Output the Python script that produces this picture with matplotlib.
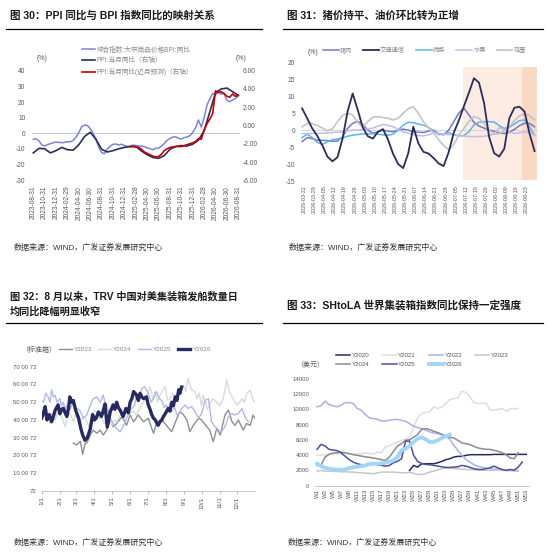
"""Four-panel macro chart page: PPI/BPI, CPI items, TRV containers, SHtoLA index."""

import matplotlib

matplotlib.use("Agg")
import matplotlib.pyplot as plt
import numpy as np
from matplotlib.lines import Line2D

plt.rcParams["font.family"] = ["Liberation Sans", "Noto Sans CJK SC", "DejaVu Sans"]
plt.rcParams["axes.unicode_minus"] = False

W, H = 549, 555
TICK_C = "#595959"

# ---------------- panel 1: PPI vs BPI ----------------
p1_dates = ["2023-08-31", "2023-10-31", "2023-12-31", "2024-02-29", "2024-04-30",
            "2024-06-30", "2024-08-31", "2024-10-31", "2024-12-31", "2025-02-28",
            "2025-04-30", "2025-06-30", "2025-08-31", "2025-10-31", "2025-12-31",
            "2026-02-28", "2026-04-30", "2026-06-30", "2026-08-31"]
# BPI yoy, half-month steps from 2023-08-31
bpi = [-3.8, -3.5, -4.8, -7.5, -8, -7.2, -6.6, -6, -5.5, -5.8, -6, -5.8, -5.3,
       -5.5, -4.5, -2.5, 0.5, 4.3, 5.3, 5, 3, 0, -4, -9, -12.3, -13, -10, -8.3,
       -7, -6.8, -7.4, -7, -7.8, -8.3, -8.5, -7.5, -7.8, -8, -8.2, -8.5, -9.3,
       -9.8, -10.5, -9.5, -9.5, -8.2, -6.5, -4.5, -3.2, -2.4, -2.2, -3.2, -3.6,
       -2.8, -2.3, -1.5, 0.5, 3.5, 8.5, 4, 10, 18, 22, 25.5, 24.5, 26.5, 25,
       25.5, 21, 20.2, 21.3, 22.3, 24]
# PPI yoy, monthly
ppi = [-3.0, -2.5, -2.55, -3.0, -2.75, -2.4, -2.65, -2.7, -2.1, -1.2, -0.75,
       -1.5, -2.6, -2.9, -2.75, -2.55, -2.4, -2.3, -2.3, -2.8, -3.2, -3.5, -3.6,
       -3.3, -2.6, -2.3, -2.2, -2.25, -2.05, -1.6, -0.6, 1.5, 3.6, 4.0, 4.1,
       3.7, 3.3]
# PPI with near-month forecast, half-month steps from 2025-01
ppi_fc = [-2.3, -2.3, -2.35, -2.4, -2.6, -2.9, -3.05, -3.2, -3.35, -3.45, -3.4,
          -3.15, -2.75, -2.55, -2.4, -2.35, -2.3, -2.3, -2.3, -2.2, -2.1, -2.0,
          -1.9, -1.75, -1.45, -1.5, -0.5, 0.2, 0.7, 1.3, 3.8, 3.6, 3.7, 3.5,
          3.2, 3.1, 3.45, 3.2, 3.3]

# ---------------- panel 2: CPI items ----------------
p2_dates = ["2026-03-22", "2026-03-29", "2026-04-05", "2026-04-12", "2026-04-19",
            "2026-04-26", "2026-05-03", "2026-05-10", "2026-05-17", "2026-05-24",
            "2026-05-31", "2026-06-07", "2026-06-14", "2026-06-21", "2026-06-28",
            "2026-07-05", "2026-07-12", "2026-07-19", "2026-07-26", "2026-08-02",
            "2026-08-09", "2026-08-16", "2026-08-23"]
pork = [-3.4, -2.2, -2.5, -3, -3, -3.1, -3.3, -3.2, -2, 0.5, 2, 2.6, 1.6, 0,
        -0.9, -0.5, 0, -0.3, -0.5, 0, 0.3, 0, -0.5, -0.6, -0.7, -0.3, 0, -1,
        -1.4, 0, 2.5, 5, 6.5, 4.5, 2.3, 1.2, 0.6, 0, -0.3, -0.8, -1, -0.6, 0.2,
        1.3, 2, 2, 1]
transport = [6.4, 3.5, 0.5, -1.7, -4.5, -7.8, -9.2, -8, -2.5, 5.5, 10.8, 6,
             0.8, -1.8, -2.5, -0.5, 0.3, -2.8, -7, -10, -11.2, -6.8, 1, -3.9,
             -6.4, -6.9, -8.2, -9.8, -10.6, -6.5, -0.8, 2.8, 7, 11, 15.3, 14, 8,
             -2, -6.8, -7.8, -5.5, 3.5, 6.6, 6.9, 5.5, -1, -6.2]
veg = [-2.2, -1.2, -2.2, -3.6, -4.2, -3.5, -2.8, -2.6, -2.3, -1.8, -1.5, -1.3,
       -1.1, -1.1, -1.1, -1.2, -1.4, -1.5, -1.2, 0, 1.5, 2.3, 2.2, 1.8, 1.5, 0.8,
       -0.2, -1.3, -1.2, -0.7, -1.4, -1.7, -1.6, -0.5, 1.5, 2.3, 2.5, 2.5, 2.4,
       1.3, 0.5, 0.8, 1.8, 2.8, 3, 1, -1.6]
fruit = [-1, -1, -1, -1, -0.9, -0.8, -0.7, -0.6, -0.5, -0.2, 0, 0, 0.2, 0.3,
         0.6, 1.2, 1.7, 1.4, 1, 0.3, -0.5, -0.9, -1.3, -1.6, -1.7, -1.4, -0.8,
         -0.9, -1.2, -1.3, -1.4, -1.6, -1.7, -1.9, -1.9, -1.9, -1.8, -1.6, -1.1,
         0.7, 0.2, -0.5, -1, -0.8, -0.5, -0.7, -1.5]
egg = [1, 2, 1.9, 1.4, 0.6, -0.2, 0.4, 2.5, 4.3, 5, 4.5, 2.2, 1, 2.5, 3.8, 4,
       3.7, 3.5, 3, 3.5, 5, 6.3, 6.9, 4.9, 2.5, 0.7, -0.8, -2.8, -4.5, -5.8,
       -4.3, -1.5, 0.5, 2.5, 4, 3.5, 2, 0, -1.2, -1, -0.2, 1, 2.8, 4.2, 4.9,
       4.3, 3]

# ---------------- panel 3: TRV China->US containers ----------------
p3_months = ["1/1", "2/1", "3/1", "4/1", "5/1", "6/1", "7/1", "8/1", "9/1",
             "10/1", "11/1", "12/1"]
p3_month_days = [0, 31, 59, 90, 120, 151, 181, 212, 243, 273, 304, 334]
p3_ylabels = ["72", "10 00 72", "20 00 72", "30 00 72", "40 00 72", "50 00 72",
              "60 00 72", "70 00 72"]
y23_d = [54, 60, 66, 70, 74, 77, 83, 88, 94, 100, 105, 111, 117, 122, 128, 137,
         145, 151, 157, 165, 174, 182, 191, 196, 205, 213, 222, 231, 236, 242,
         248, 253, 259, 268, 273, 282, 287, 293, 299, 305, 313, 319, 325, 330,
         336, 344, 350, 356, 361, 364]
y23_v = [27, 26, 28, 20.6, 26.8, 27, 31.5, 34.3, 32.5, 34.3, 31.5, 34.3, 40,
         36.2, 38, 41.8, 37, 42.8, 39, 42.8, 39, 41, 32.5, 38, 40, 37, 33.4, 41,
         44.7, 43, 40, 33.4, 37, 41, 40, 36.2, 34.3, 27.8, 35.3, 31.5, 42.8,
         45.6, 39, 37, 40, 34.3, 38, 37, 42.8, 41]
y24_d = [0, 3, 8, 14, 18, 23, 27, 31, 36, 40, 44, 48, 54, 60, 64, 68, 73, 77,
         81, 85, 90, 94, 98, 102, 107, 111, 116, 120, 124, 128, 133, 137, 141,
         145, 151, 157, 162, 168, 174, 180, 185, 190, 194, 198, 202, 207, 211,
         215, 219, 224, 228, 232, 236, 242, 246, 250, 256, 262, 265, 269, 273,
         276, 279, 283, 287, 292, 299, 304, 310, 313, 316, 319, 322, 327, 333,
         338, 342, 346, 350, 356, 361, 364]
y24_v = [44, 41.8, 45, 38, 44, 40, 44, 43.7, 40, 36.2, 42, 44, 39, 44, 41, 40,
         42, 39, 36, 43, 45, 44.7, 41, 41, 38, 40, 43, 37, 40, 39, 42, 43.7, 41,
         46.5, 44, 45, 42.8, 47, 50, 54, 58.7, 52, 56, 50, 54, 57, 58.7, 51, 52,
         55, 53, 55, 57.8, 59.7, 56, 63.4, 57, 56, 52, 55, 48, 54, 51, 46, 49,
         52, 50, 48, 52, 57, 62.5, 58, 55, 52, 48.4, 50, 52, 50, 55, 56.8, 51,
         50]
y25_d = [0, 3, 7, 11, 14, 17, 20, 23, 26, 31, 34, 37, 40, 43, 48, 51, 54, 57,
         60, 65, 71, 77, 83, 88, 94, 100, 105, 108, 111, 117, 122, 128, 134,
         139, 145, 151, 155, 159, 162, 166, 171, 176, 182, 187, 191, 196, 201,
         205, 209, 213, 217, 222, 227, 231, 235, 239, 245, 250, 256, 262, 268,
         273, 276, 279, 285, 290, 296, 302, 307, 313, 319, 325, 330, 336, 342,
         347, 353]
y25_v = [51, 50, 55, 53, 50, 57, 53, 54, 50, 52, 48, 50, 46, 48.4, 45.6, 48,
         49.3, 45, 46.5, 45.6, 41, 42.8, 48.4, 52, 53, 50, 54, 50, 48.4, 41, 38,
         35.3, 33.4, 36.2, 41, 45.6, 47, 48.4, 55, 52, 57.8, 58.7, 55, 50, 52,
         56, 52, 51, 47, 48.4, 45, 44.7, 47, 42.8, 44, 46.5, 48.4, 46.5, 47.5,
         44.7, 41, 43.7, 47, 51, 52, 39, 36.2, 34.3, 33.4, 36.2, 41.8, 43.7,
         42.8, 43.7, 46.5, 41.8, 39]
y26_d = [0, 3, 6, 9, 13, 17, 20, 23, 28, 31, 34, 37, 40, 43, 46, 48, 51, 54,
         58, 63, 67, 70, 74, 78, 83, 87, 90, 93, 97, 100, 102, 105, 108, 112,
         117, 122, 125, 128, 131, 134, 139, 144, 148, 151, 154, 157, 162, 165,
         168, 171, 174, 179, 182, 185, 188, 191, 194, 197, 199, 202, 205, 208,
         211, 216, 219, 222, 225, 228, 231, 234, 236, 239]
y26_v = [41, 44, 47.5, 40, 43, 39, 42, 45.5, 48.5, 43.5, 46, 46.5, 44, 42, 47,
         53, 50, 51, 45.5, 41, 35, 31.5, 28.5, 30, 35, 43, 40, 41, 44.5, 43, 42,
         45, 49, 36, 44.5, 48.5, 46, 50, 47, 45.5, 42, 46.5, 44, 50, 52, 56, 54,
         51, 55, 53, 52, 53, 48.5, 46, 43, 41, 40, 38, 37, 39, 40, 42, 43.5,
         46.5, 45, 50, 48, 53, 51, 57, 55, 58.5]

# ---------------- panel 4: SHtoLA index ----------------
p4_weeks = ["W%d" % i for i in range(1, 54, 2)]
y2020 = [np.nan] * 23 + [1980, 2640, 2420, 2860, 2860, 2860, 2860, 2990, 3170,
                         3390, 3520, 3740, 3830, 3830, 3960, 4050, 4050, 4050,
                         4050, 4050, 4050, 4090, 4090, 4090, 4090, 4090, 4090,
                         4090, 4090, 4090]
y2021 = [4000, 4000, 4050, 4100, 4100, 4150, 4150, 4200, 4200, 4150, 4100,
         4200, 4250, 4200, 4100, 4400, 4300, 5060, 5200, 5500, 5700, 5940, 6100,
         6400, 7700, 8900, 9460, 9600, 9680, 10340, 10120, 10300, 10780, 11300,
         11440, 11500, 12400, 12230, 11660, 10900, 10780, 10800, 10850, 9900,
         9950, 10000, 10120, 9770, 10100, 10100, 10120]
y2022 = [10340, 10470, 11090, 10650, 10470, 10340, 10560, 10900, 10900, 10780,
         10120, 9900, 9330, 8890, 8800, 8710, 8490, 8490, 8580, 8670, 8670, 8580,
         8450, 8140, 7790, 7610, 7480, 7260, 7040, 6900, 6820, 6690, 6470, 6070,
         5280, 4620, 3960, 3430, 3080, 2730, 2510, 2380, 2290, 2200, 2150, 2100,
         2050, 2000, 2000, 2000, 2000]
y2023 = [1890, 1980, 1890, 1900, 1850, 1850, 1800, 1800, 1780, 1760, 1700,
         1680, 1630, 1600, 1540, 1650, 1760, 1760, 1760, 1760, 1720, 1670, 1670,
         1760, 1580, 1450, 1450, 1580, 1760, 1890, 2070, 2200, 2290, 2290, 2200,
         2200, 2150, 2110, 2090, 2070, 2050, 2030, 2000, 1980, 2000, 2070, 2000,
         1980, 1950, 1890, 1890]
y2024 = [2640, 2640, 3740, 4090, 4270, 4310, 4400, 4310, 4180, 4050, 3960,
         3870, 3780, 3700, 3610, 3520, 3390, 3300, 3740, 4490, 5190, 5500, 5940,
         6030, 6340, 6690, 7390, 7480, 7350, 7130, 6950, 6730, 6510, 6340, 6250,
         5940, 5590, 5500, 5370, 5150, 4930, 4840, 4750, 4750, 4620, 4490, 4310,
         4050, 3610, 3520, 4310]
y2025 = [4750, 5410, 5190, 4750, 4660, 4580, 4310, 3830, 3390, 3080, 2860,
         2730, 2640, 2730, 2860, 2730, 2640, 2550, 2640, 2990, 3170, 3520, 5810,
         5850, 3960, 3170, 2900, 2770, 2730, 2640, 2550, 2460, 2380, 2380, 2420,
         2460, 2640, 2550, 2380, 2200, 2110, 2110, 2200, 2330, 2550, 2290, 2110,
         1980, 2110, 2020, 2420, 3080]
y2026 = [2860, 2550, 2330, 2200, 2110, 2070, 2070, 2110, 2290, 2380, 2460,
         2550, 2640, 2820, 2860, 2860, 2900, 2990, 3170, 3300, 3740, 4620, 4840,
         5190, 5720, 6160, 6340, 6070, 5720, 5720, 5940, 6250, 6470, 6690]


def rect(l, t, r, b):
    return [l / W, 1 - b / H, (r - l) / W, (b - t) / H]


def header(fig, lines, x0, x1, y_line, size=7.5):
    for txt, y in lines:
        fig.text(x0 + 4 / W, 1 - y / H, txt, fontsize=size, fontweight="bold",
                 color="#1a1a1a", va="center", ha="left")
    fig.add_artist(Line2D([x0, x1], [1 - y_line / H] * 2, color="black",
                          lw=0.9, transform=fig.transFigure))


def source(fig, x, y):
    fig.text(x / W, 1 - y / H, "数据来源：WIND，广发证券发展研究中心",
             fontsize=5.8, color="#333333", va="center")


def clean(ax):
    for s in ax.spines.values():
        s.set_visible(False)
    ax.tick_params(length=0, colors=TICK_C, labelsize=4.8)


fig = plt.figure(figsize=(W / 100, H / 100), dpi=100)

# ---- panel 1 ----
header(fig, [("图 30：PPI 同比与 BPI 指数同比的映射关系", 15)], 6 / W, 262 / W, 29,
       size=7.6)
ax1 = fig.add_axes(rect(31.6, 70.7, 240, 180.3))
ax1r = ax1.twinx()
for a in (ax1, ax1r):
    clean(a)
h_x = np.arange(len(bpi)) / 2
l_bpi, = ax1.plot(h_x, bpi, color="#7d81d8", lw=1.1, zorder=2)
ax1.axhline(0, color="#bfbfbf", lw=0.6, zorder=1)
l_ppi, = ax1r.plot(np.arange(len(ppi)), ppi, color="#2c2b5a", lw=1.2, zorder=3)
l_fc, = ax1r.plot(17 + np.arange(len(ppi_fc)) / 2, ppi_fc, color="#c00000",
                  lw=1.2, zorder=4)
ax1.set_xlim(-0.3, 36.3)
ax1.set_ylim(-30, 40)
ax1r.set_ylim(-6, 6)
ax1.set_yticks(range(-30, 41, 10))
ax1r.set_yticks(range(-6, 7, 2))
ax1r.set_yticklabels(["%.2f" % v for v in range(-6, 7, 2)])
ax1.set_xticks(range(0, 37, 2))
ax1.set_xticklabels(p1_dates, rotation=90, fontsize=4.8)
ax1.tick_params(axis="y", pad=4.5)
ax1r.tick_params(axis="y", pad=2)
ax1.tick_params(axis="x", pad=4)
fig.text(37 / W, 1 - 59 / H, "(%)", fontsize=5, color=TICK_C, va="center")
fig.text(236 / W, 1 - 59 / H, "(%)", fontsize=5, color=TICK_C, va="center")
fig.legend([l_bpi, l_ppi, l_fc],
           ["综合指数:大宗商品价格BPI:同比", "PPI:当月同比（右轴）",
            "PPI:当月同比(近月预测)（右轴）"],
           loc="upper left", bbox_to_anchor=(82 / W, 1 - 46.5 / H), frameon=False,
           fontsize=4.8, handlelength=2.0, handletextpad=0.2, labelspacing=0.55,
           borderpad=0, borderaxespad=0, labelcolor="#8a8a8a")
source(fig, 14, 248)

# ---- panel 2 ----
header(fig, [("图 31：猪价持平、油价环比转为正增", 15)], 283 / W, 543 / W, 29,
       size=7.6)
ax2 = fig.add_axes(rect(301.4, 62.3, 538.2, 181))
clean(ax2)
k_days = -1.5 + 3.5 * np.arange(len(pork))
ax2.axvspan(110.2, 161, ymin=0.01, ymax=0.96, color="#fcebe1", lw=0, zorder=0)
ax2.axvspan(150.5, 161, ymin=0.01, ymax=0.96, color="#f9d8c4", lw=0, zorder=0)
ax2.axhline(0, color="#d0d0d0", lw=0.6, zorder=1)
series2 = [(pork, "猪肉", "#7478c9", 1.1), (transport, "交通通信", "#2b2b5c", 1.3),
           (veg, "蔬菜", "#5db4e6", 1.1), (fruit, "水果", "#bdbde8", 1.1),
           (egg, "鸡蛋", "#c4c4c4", 1.2)]
handles2 = []
for vals, name, col, lw in series2:
    ln, = ax2.plot(k_days, vals, color=col, lw=lw, label=name, zorder=2)
    handles2.append(ln)
handles2[1].set_zorder(3)
ax2.set_xlim(-2, 162)
ax2.set_ylim(-15, 20)
ax2.set_yticks(range(-15, 21, 5))
ax2.set_xticks(np.arange(len(p2_dates)) * 7)
ax2.set_xticklabels(p2_dates, rotation=90, fontsize=3.9)
ax2.tick_params(axis="y", pad=4.5)
ax2.tick_params(axis="x", pad=3)
fig.text(308 / W, 1 - 53 / H, "(%)", fontsize=5, color=TICK_C, va="center")
fig.legend(handles2, [s[1] for s in series2], loc="center left", ncol=5,
           bbox_to_anchor=(323 / W, 1 - 50 / H), frameon=False, fontsize=4.5,
           handlelength=2.5, handletextpad=0.2, columnspacing=1.75,
           borderpad=0, borderaxespad=0, labelcolor="#8a8a8a")
source(fig, 289, 248)

# ---- panel 3 ----
header(fig, [("图 32：8 月以来，TRV 中国对美集装箱发船数量日", 296),
             ("均同比降幅明显收窄", 312)], 6 / W, 262 / W, 323.3, size=7.3)
ax3 = fig.add_axes(rect(41.7, 366.7, 255.4, 491))
clean(ax3)
ax3.spines["bottom"].set_visible(True)
ax3.spines["bottom"].set_color("#bfbfbf")
ax3.spines["bottom"].set_linewidth(0.6)
l23, = ax3.plot(y23_d, np.array(y23_v) * 1000, color="#8f8f8f", lw=1.0)
l24, = ax3.plot(y24_d, np.array(y24_v) * 1000, color="#dadada", lw=1.0)
l25, = ax3.plot(y25_d, np.array(y25_v) * 1000, color="#b3b7ea", lw=1.0)
l26, = ax3.plot(y26_d, np.array(y26_v) * 1000, color="#262a5f", lw=2.4)
ax3.set_xlim(0, 365)
ax3.set_ylim(0, 70000)
ax3.set_yticks(range(0, 70001, 10000))
ax3.set_yticklabels(p3_ylabels, fontsize=4.3)
ax3.set_xticks(p3_month_days)
ax3.set_xticklabels(p3_months, rotation=90, fontsize=4.5)
ax3.tick_params(axis="x", length=2, color="#bfbfbf", pad=2)
ax3.tick_params(axis="y", pad=3.5)
fig.text(21 / W, 1 - 350 / H, "（标准箱）", fontsize=5, color=TICK_C, va="center")
fig.legend([l23, l24, l25, l26], ["Y2023", "Y2024", "Y2025", "Y2026"],
           loc="center left", ncol=4, bbox_to_anchor=(59 / W, 1 - 349 / H),
           frameon=False, fontsize=4.6, handlelength=2.0, handletextpad=0.3,
           columnspacing=1.0, borderpad=0, borderaxespad=0, labelcolor="#8a8a8a")
source(fig, 14, 543)

# ---- panel 4 ----
header(fig, [("图 33：SHtoLA 世界集装箱指数同比保持一定强度", 305)],
       283 / W, 543 / W, 322.7, size=7.6)
ax4 = fig.add_axes(rect(314.6, 379, 528.7, 485.5))
clean(ax4)
ax4.spines["bottom"].set_visible(True)
ax4.spines["bottom"].set_color("#bfbfbf")
ax4.spines["bottom"].set_linewidth(0.6)
series4 = [(y2020, "Y2020", "#262a66", 1.1), (y2021, "Y2021", "#dedede", 1.1),
           (y2022, "Y2022", "#abb0e6", 1.1), (y2023, "Y2023", "#c6c6c6", 1.1),
           (y2024, "Y2024", "#8c8c8c", 1.1), (y2025, "Y2025", "#4b4fa2", 1.1),
           (y2026, "Y2026", "#a3d6f6", 2.8)]
handles4 = []
for vals, name, col, lw in series4:
    ln, = ax4.plot(np.arange(1, len(vals) + 1), vals, color=col, lw=lw)
    handles4.append(ln)
ax4.set_xlim(0.4, 53.6)
ax4.set_ylim(0, 14000)
ax4.set_yticks(range(0, 14001, 2000))
ax4.set_yticklabels([str(v) for v in range(0, 14001, 2000)], fontsize=4.3)
ax4.set_xticks(range(1, 54, 2))
ax4.set_xticklabels(p4_weeks, rotation=90, fontsize=4.3)
ax4.tick_params(axis="y", pad=4)
ax4.tick_params(axis="x", pad=2.5)
fig.text(296 / W, 1 - 365 / H, "（美元）", fontsize=5, color=TICK_C, va="center")
# legend fills column-wise: reorder so rows read 2020..2023 / 2024..2026
leg_order = [0, 4, 1, 5, 2, 6, 3]
fig.legend([handles4[i] for i in leg_order], [series4[i][1] for i in leg_order],
           loc="upper left", ncol=4,
           bbox_to_anchor=(336 / W, 1 - 353 / H), frameon=False, fontsize=4.4,
           handlelength=2.3, handletextpad=0.3, columnspacing=2.1,
           labelspacing=0.55, borderpad=0, borderaxespad=0,
           labelcolor="#555555")
source(fig, 288, 543)

fig.savefig("out.png", dpi=100)
